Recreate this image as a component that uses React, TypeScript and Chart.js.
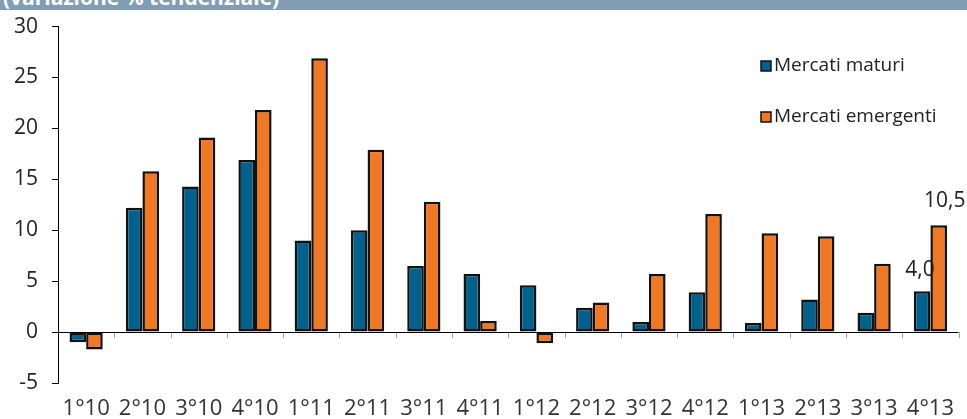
import React, { useEffect, useRef } from "react";
import { Chart, registerables } from "chart.js";

Chart.register(...registerables);

const categories = ["1°10", "2°10", "3°10", "4°10", "1°11", "2°11", "3°11", "4°11", "1°12", "2°12", "3°12", "4°12", "1°13", "2°13", "3°13", "4°13"];
const maturi = [-1.0, 12.2, 14.3, 16.9, 9.0, 10.0, 6.5, 5.7, 4.6, 2.4, 1.0, 3.9, 0.9, 3.2, 1.9, 4.0];
const emergenti = [-1.7, 15.8, 19.1, 21.8, 26.9, 17.9, 12.8, 1.1, -1.1, 2.9, 5.7, 11.6, 9.7, 9.4, 6.7, 10.5];
const seriesNames = ["Mercati maturi", "Mercati emergenti"];
const titleText = "(variazione % tendenziale)";
const yMin = -5;
const yMax = 30;
const yStep = 5;

const FONT = "'Open Sans', 'Noto Sans', sans-serif";
const BLUE = "#00628c";
const ORANGE = "#f07822";

export default function App() {
  const ref = useRef<HTMLCanvasElement | null>(null);

  useEffect(() => {
    document.body.style.margin = "0";
    const canvas = ref.current!;
    const extras = {
      id: "extras",
      afterDatasetsDraw(chart: any) {
        const ctx = chart.ctx;
        const x = chart.scales.x;
        const y = chart.scales.y;
        const y0 = y.getPixelForValue(0);
        ctx.save();
        ctx.strokeStyle = "#a0a0a0";
        ctx.lineWidth = 1;
        const n = categories.length;
        const w = (x.right - x.left) / n;
        for (let i = 1; i <= n; i++) {
          const px = Math.round(x.left + i * w) + 0.5;
          ctx.beginPath();
          ctx.moveTo(px, y0);
          ctx.lineTo(px, y0 + 6);
          ctx.stroke();
        }
        ctx.strokeStyle = "#000";
        ctx.beginPath();
        ctx.moveTo(x.left, Math.round(y0) + 0.5);
        ctx.lineTo(x.right, Math.round(y0) + 0.5);
        ctx.stroke();
        const last = n - 1;
        const m0 = chart.getDatasetMeta(0).data[last];
        const m1 = chart.getDatasetMeta(1).data[last];
        ctx.fillStyle = "#222";
        ctx.font = "21px " + FONT;
        ctx.textAlign = "center";
        ctx.textBaseline = "middle";
        ctx.fillText(maturi[last].toFixed(1).replace(".", ","), m0.x - 2, m0.y - 21);
        ctx.fillText(emergenti[last].toFixed(1).replace(".", ","), m1.x + 6, m1.y - 24);
        const cols = [BLUE, ORANGE];
        ctx.font = "19px " + FONT;
        ctx.textAlign = "left";
        for (let i = 0; i < 2; i++) {
          const ly = 66 + i * 51;
          ctx.fillStyle = cols[i];
          ctx.fillRect(761, ly - 5, 10, 10);
          ctx.strokeStyle = "#111";
          ctx.lineWidth = 1.5;
          ctx.strokeRect(761, ly - 5, 10, 10);
          ctx.fillStyle = "#222";
          ctx.fillText(seriesNames[i], 774, ly);
        }
        ctx.restore();
      },
    };

    const chart = new Chart(canvas, {
      type: "bar",
      data: {
        labels: categories,
        datasets: [
          { label: seriesNames[0], data: maturi, backgroundColor: BLUE, borderColor: "#111", borderWidth: 2.5, borderSkipped: false, categoryPercentage: 0.59, barPercentage: 1 },
          { label: seriesNames[1], data: emergenti, backgroundColor: ORANGE, borderColor: "#111", borderWidth: 2.5, borderSkipped: false, categoryPercentage: 0.59, barPercentage: 1 },
        ],
      },
      options: {
        animation: false,
        responsive: false,
        devicePixelRatio: 1,
        layout: { padding: { top: 23, right: 1, left: 0, bottom: 0 } },
        plugins: { legend: { display: false }, tooltip: { enabled: false }, title: { display: false } },
        scales: {
          x: {
            grid: { display: false, drawTicks: false },
            border: { display: false },
            ticks: { color: "#333", font: { size: 22, family: FONT }, padding: 13, maxRotation: 0, autoSkip: false },
            afterFit(s: any) { s.height = 36; },
          },
          y: {
            min: yMin,
            max: yMax,
            grid: { drawOnChartArea: false, tickColor: "#000", tickLength: 6 },
            border: { display: true, color: "#000", width: 1 },
            ticks: { stepSize: yStep, color: "#222", font: { size: 21, family: FONT }, padding: 14 },
            afterFit(s: any) { s.width = 58; },
          },
        },
      },
      plugins: [extras],
    } as any);
    return () => chart.destroy();
  }, []);

  return (
    <div style={{ position: "relative", width: 967, height: 419, background: "#fff", overflow: "hidden" }}>
      <canvas ref={ref} width={967} height={419} style={{ position: "absolute", left: 0, top: 0 }} />
      <div style={{ position: "absolute", left: 0, top: 0, width: 967, height: 10, background: "#809db4", overflow: "hidden" }}>
        <span style={{ position: "absolute", left: 3, top: -13, fontFamily: FONT, fontWeight: 700, fontSize: 21, lineHeight: "21px", color: "#fff", whiteSpace: "nowrap" }}>{titleText}</span>
      </div>
    </div>
  );
}
